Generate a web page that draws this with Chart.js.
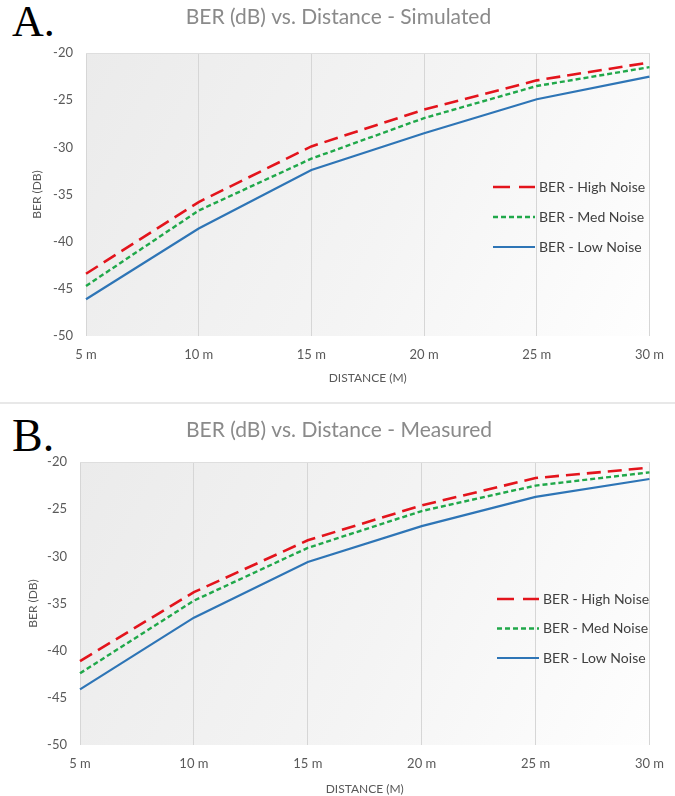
<!DOCTYPE html>
<html><head><meta charset="utf-8">
<script src="https://cdn.jsdelivr.net/npm/chart.js@4.4.1/dist/chart.umd.min.js"></script>
<style>
body{margin:0;background:#fff;width:675px;height:796px;position:relative;overflow:hidden;font-family:Lato,sans-serif}
.lbl{position:absolute;font-family:"Liberation Serif",serif;color:#000;line-height:1;margin:0}
.sep{position:absolute;left:0;top:402px;width:675px;height:2px;background:#e8e8e8}
canvas{position:absolute;left:20px}
#ca{top:0}
#cb{top:400px}
</style></head><body>
<div class="lbl" style="left:12px;top:0px;font-size:44px">A.</div>
<div class="sep"></div>
<div class="lbl" style="left:12px;top:413px;font-size:46px">B.</div>
<canvas id="ca" width="655" height="400"></canvas>
<canvas id="cb" width="655" height="396"></canvas>
<script>
// ---- data ----
const distances = ['5 m','10 m','15 m','20 m','25 m','30 m'];
const seriesNames = ['BER - High Noise','BER - Med Noise','BER - Low Noise'];
const simHigh = [-43.4, -35.8, -29.9, -26.0, -22.9, -21.0];
const simMed  = [-44.7, -36.7, -31.2, -26.9, -23.5, -21.5];
const simLow  = [-46.1, -38.6, -32.4, -28.5, -24.9, -22.5];
const measHigh = [-41.1, -33.8, -28.3, -24.6, -21.7, -20.6];
const measMed  = [-42.4, -34.7, -29.1, -25.2, -22.5, -21.1];
const measLow  = [-44.1, -36.5, -30.6, -26.8, -23.7, -21.8];
const yMin = -50, yMax = -20, yStep = 5;
const titleA = 'BER (dB) vs. Distance - Simulated';
const titleB = 'BER (dB) vs. Distance - Measured';
const xTitle = 'DISTANCE (M)';
const yTitle = 'BER (DB)';

// ---- plugins ----
const bgPlugin = {
  id: 'plotBg',
  beforeDraw(chart) {
    const {ctx, chartArea: a} = chart;
    const g = ctx.createLinearGradient(a.left, a.top, a.right, a.bottom);
    g.addColorStop(0, '#ebebeb');
    g.addColorStop(0.55, '#f4f4f4');
    g.addColorStop(1, '#fefefe');
    ctx.save();
    ctx.fillStyle = g;
    ctx.fillRect(a.left, a.top, a.right - a.left, a.bottom - a.top);
    ctx.restore();
  }
};
const insideLegend = {
  id: 'insideLegend',
  afterDraw(chart, args, o) {
    const {ctx, chartArea: a} = chart;
    ctx.save();
    chart.data.datasets.forEach((ds, i) => {
      const y = a.top + o.top + i * o.spacing;
      const x = a.left + o.left;
      ctx.strokeStyle = ds.borderColor;
      ctx.lineWidth = ds.borderWidth;
      ctx.setLineDash(ds.legendDash || []);
      ctx.beginPath(); ctx.moveTo(x, y); ctx.lineTo(x + o.lineLen, y); ctx.stroke();
      ctx.setLineDash([]);
      ctx.fillStyle = '#404040';
      ctx.font = '14px Lato';
      ctx.textBaseline = 'middle';
      ctx.fillText(ds.label, x + o.lineLen + 4, y);
    });
    ctx.restore();
  }
};

function makeChart(id, title, high, med, low, cfg) {
  return new Chart(document.getElementById(id), {
    type: 'line',
    data: {
      labels: distances,
      datasets: [
        {label: seriesNames[0], data: high, borderColor: '#e3141c', borderWidth: 2.6, borderDash: [14, 7], legendDash: [17, 9]},
        {label: seriesNames[1], data: med, borderColor: '#20a84a', borderWidth: 2.4, borderDash: [5, 3], legendDash: [5, 3]},
        {label: seriesNames[2], data: low, borderColor: '#2e75b6', borderWidth: 2.2}
      ]
    },
    options: {
      responsive: false,
      animation: false,
      devicePixelRatio: 1,
      elements: {point: {radius: 0}, line: {tension: 0, fill: false}},
      layout: {padding: {left: 0, right: cfg.padRight, top: 0, bottom: 0}},
      plugins: {
        legend: {display: false},
        tooltip: {enabled: false},
        title: {display: true, text: title, color: '#8a8a8a',
                font: {family: 'Lato', size: 21, weight: 'normal'},
                padding: {top: cfg.titleTop, bottom: cfg.titleBottom}},
        insideLegend: cfg.legend
      },
      scales: {
        x: {
          grid: {color: '#d6d6d6', drawTicks: false},
          border: {display: false},
          ticks: {color: '#595959', font: {family: 'Lato', size: 13}, padding: 11, maxRotation: 0},
          title: {display: true, text: xTitle, color: '#595959', font: {family: 'Lato', size: 12}, padding: {top: 0, bottom: cfg.xTitlePad}},
          afterFit(s) { s.height = cfg.xHeight; }
        },
        y: {
          min: yMin, max: yMax,
          grid: {drawTicks: false, color: c => (c.tick && c.tick.value === yMax) ? '#dedede' : 'rgba(0,0,0,0)'},
          border: {display: false},
          ticks: {stepSize: yStep, color: '#595959', font: {family: 'Lato', size: 13}, padding: 13},
          title: {display: true, text: yTitle, color: '#595959', font: {family: 'Lato', size: 12}, padding: {top: cfg.yTitlePad, bottom: 0}},
          afterFit(s) { s.width = cfg.yWidth; }
        }
      }
    },
    plugins: [bgPlugin, insideLegend]
  });
}

makeChart('ca', titleA, simHigh, simMed, simLow, {
  padRight: 18, titleTop: 4.4, titleBottom: 23.4, xHeight: 64, xTitlePad: 14.8,
  yWidth: 66, yTitlePad: 9.8,
  legend: {top: 134, left: 407, spacing: 30, lineLen: 42}
});
makeChart('cb', titleB, measHigh, measMed, measLow, {
  padRight: 17, titleTop: 17.4, titleBottom: 19.4, xHeight: 51, xTitlePad: 0,
  yWidth: 60, yTitlePad: 5.8,
  legend: {top: 137, left: 417, spacing: 29.5, lineLen: 42}
});
</script>
</body></html>
